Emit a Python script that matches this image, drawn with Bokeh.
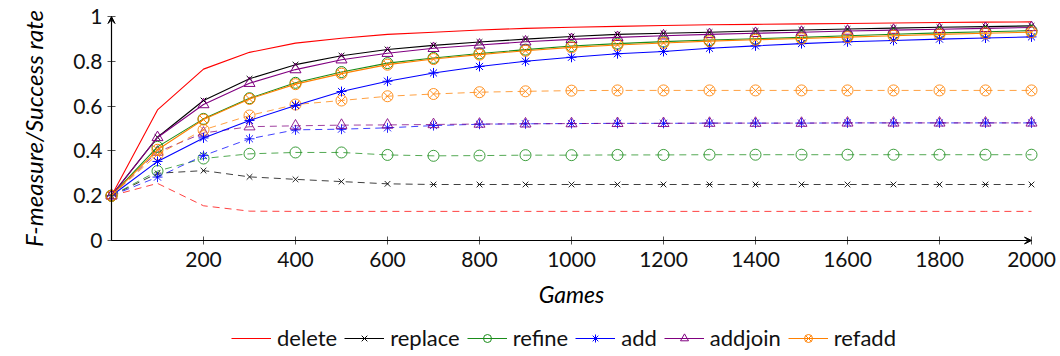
import math
from bokeh.plotting import figure
from bokeh.models import (Range1d, FixedTicker, Legend, LegendItem, Arrow, VeeHead, Label)
from bokeh.embed import file_html
from bokeh.resources import INLINE

# ---------------- data ----------------
games = [0, 100, 200, 300, 400, 500, 600, 700, 800, 900, 1000,
         1100, 1200, 1300, 1400, 1500, 1600, 1700, 1800, 1900, 2000]

names = ["delete", "replace", "refine", "add", "addjoin", "refadd"]

# F-measure (solid lines)
delete_f = [0.2, 0.583, 0.765, 0.840, 0.881, 0.903, 0.920, 0.930, 0.940, 0.947, 0.952,
            0.956, 0.960, 0.963, 0.965, 0.967, 0.969, 0.971, 0.973, 0.975, 0.976]
replace_f = [0.2, 0.461, 0.625, 0.722, 0.785, 0.825, 0.853, 0.871, 0.886, 0.899, 0.911,
             0.920, 0.925, 0.930, 0.935, 0.940, 0.944, 0.948, 0.952, 0.955, 0.958]
refine_f = [0.2, 0.418, 0.543, 0.635, 0.704, 0.752, 0.792, 0.815, 0.835, 0.852, 0.868,
            0.879, 0.888, 0.895, 0.901, 0.907, 0.914, 0.921, 0.927, 0.932, 0.937]
add_f = [0.2, 0.353, 0.458, 0.536, 0.603, 0.665, 0.711, 0.748, 0.777, 0.800, 0.818,
         0.834, 0.844, 0.858, 0.869, 0.879, 0.887, 0.893, 0.899, 0.904, 0.909]
addjoin_f = [0.2, 0.460, 0.607, 0.702, 0.763, 0.807, 0.836, 0.858, 0.873, 0.887, 0.898,
             0.907, 0.914, 0.920, 0.925, 0.930, 0.935, 0.939, 0.943, 0.947, 0.951]
refadd_f = [0.2, 0.405, 0.540, 0.632, 0.698, 0.745, 0.785, 0.810, 0.830, 0.847, 0.862,
            0.873, 0.882, 0.890, 0.896, 0.902, 0.908, 0.914, 0.920, 0.925, 0.930]

# Success rate (dashed lines)
delete_s = [0.2, 0.255, 0.155, 0.131, 0.130, 0.130, 0.130, 0.130, 0.130, 0.130, 0.130,
            0.130, 0.130, 0.130, 0.130, 0.130, 0.130, 0.130, 0.130, 0.130, 0.130]
replace_s = [0.2, 0.300, 0.312, 0.284, 0.273, 0.263, 0.253, 0.250, 0.250, 0.250, 0.250,
             0.250, 0.250, 0.250, 0.250, 0.250, 0.250, 0.250, 0.250, 0.250, 0.250]
refine_s = [0.2, 0.310, 0.366, 0.387, 0.393, 0.393, 0.382, 0.378, 0.379, 0.381, 0.381,
            0.382, 0.382, 0.383, 0.383, 0.383, 0.383, 0.383, 0.383, 0.383, 0.383]
add_s = [0.2, 0.283, 0.379, 0.454, 0.494, 0.497, 0.503, 0.513, 0.519, 0.521, 0.522,
         0.523, 0.523, 0.524, 0.524, 0.524, 0.525, 0.525, 0.525, 0.525, 0.525]
addjoin_s = [0.2, 0.395, 0.480, 0.508, 0.512, 0.515, 0.516, 0.518, 0.520, 0.521, 0.522,
             0.523, 0.523, 0.524, 0.524, 0.524, 0.525, 0.525, 0.525, 0.525, 0.525]
refadd_s = [0.2, 0.384, 0.494, 0.558, 0.607, 0.625, 0.644, 0.654, 0.662, 0.666, 0.669,
            0.670, 0.670, 0.670, 0.670, 0.670, 0.670, 0.670, 0.670, 0.670, 0.670]

x_ticks = [200, 400, 600, 800, 1000, 1200, 1400, 1600, 1800, 2000]
y_ticks = [0, 0.2, 0.4, 0.6, 0.8, 1]
y_tick_labels = ["0", "0.2", "0.4", "0.6", "0.8", "1"]
x_label = "Games"
y_label = "F-measure/Success rate"

f_series = [delete_f, replace_f, refine_f, add_f, addjoin_f, refadd_f]
s_series = [delete_s, replace_s, refine_s, add_s, addjoin_s, refadd_s]

# ---------------- style / layout ----------------
colors = ["#ff0000", "#000000", "#1a8c1a", "#0000ff", "#800080", "#ff8000"]
markers = [None, "x", "circle", "asterisk", "triangle", "circle_x"]
msizes = [0, 8, 11, 10, 11, 11]

FONT = "Lato"
W, H = 1060, 356
X0_PX, X_SCALE = 111.0, 0.46     # pixel of x=0 and pixels per game
Y0_PX, Y_SCALE = 240.0, 224.0    # pixel of y=0 and pixels per unit

p = figure(width=W, height=H, output_backend="svg", toolbar_location=None,
           x_range=Range1d(-X0_PX / X_SCALE, (W - X0_PX) / X_SCALE),
           y_range=Range1d(-(H - Y0_PX) / Y_SCALE, Y0_PX / Y_SCALE),
           min_border_left=0, min_border_right=0, min_border_top=0,
           min_border_bottom=0)
p.outline_line_color = None
p.grid.visible = False
p.background_fill_color = "white"
p.border_fill_color = "white"

for ax in p.xaxis:
    ax.fixed_location = 0
for ax in p.yaxis:
    ax.fixed_location = 0

p.xaxis.ticker = FixedTicker(ticks=x_ticks)
p.yaxis.ticker = FixedTicker(ticks=y_ticks)
p.yaxis.major_label_overrides = {t: l for t, l in zip(y_ticks, y_tick_labels)}
for ax in (p.xaxis, p.yaxis):
    ax.axis_line_color = None
    ax.major_tick_line_color = "#555555"
    ax.major_tick_in = 4
    ax.major_tick_out = 4
    ax.minor_tick_line_color = None
    ax.major_label_text_font = FONT
    ax.major_label_text_font_size = "21px"
    ax.major_label_text_color = "#111111"
p.xaxis.major_label_standoff = 7
p.yaxis.major_label_standoff = 5

# axis titles (placed like the reference: centred on the drawn axes)
p.add_layout(Label(x=max(games) / 2, y=H - 293, x_units="data", y_units="screen",
                   text=x_label, text_font=FONT, text_font_style="italic",
                   text_font_size="23px", text_align="center",
                   text_baseline="middle", text_color="black"))
p.add_layout(Label(x=33, y=max(y_ticks) / 2, x_units="screen", y_units="data",
                   angle=math.pi / 2, text=y_label, text_font=FONT,
                   text_font_style="italic", text_font_size="24px",
                   text_align="center", text_baseline="middle", text_color="black"))

# axis lines with arrow heads
p.add_layout(Arrow(end=VeeHead(size=7, fill_color="black", line_color="black"),
                   x_start=0, y_start=0, x_end=max(games), y_end=0,
                   line_color="black", line_width=1.2))
p.add_layout(Arrow(end=VeeHead(size=7, fill_color="black", line_color="black"),
                   x_start=0, y_start=0, x_end=0, y_end=max(y_ticks),
                   line_color="black", line_width=1.2))

# dashed (success rate) first, then solid
for i, name in enumerate(names):
    c = colors[i]
    p.line(games, s_series[i], line_color=c, line_width=1, line_dash="7 5", line_alpha=0.75)
    if markers[i]:
        p.scatter(games, s_series[i], marker=markers[i], size=msizes[i],
                  line_color=c, fill_color=None, line_width=1, line_alpha=0.85)

items = []
for i, name in enumerate(names):
    c = colors[i]
    rs = [p.line(games, f_series[i], line_color=c, line_width=1.1)]
    if markers[i]:
        rs.append(p.scatter(games, f_series[i], marker=markers[i], size=msizes[i],
                            line_color=c, fill_color=None, line_width=1))
    items.append(LegendItem(label=name, renderers=rs))

legend = Legend(items=items, orientation="horizontal", location=(231, 5),
                label_text_font=FONT, label_text_font_size="22px",
                label_text_color="#111111",
                glyph_width=40, glyph_height=20, label_standoff=6, spacing=7,
                padding=0, margin=0, border_line_color=None,
                background_fill_alpha=0)
p.add_layout(legend)

open("out.html", "w").write(file_html(p, INLINE))
